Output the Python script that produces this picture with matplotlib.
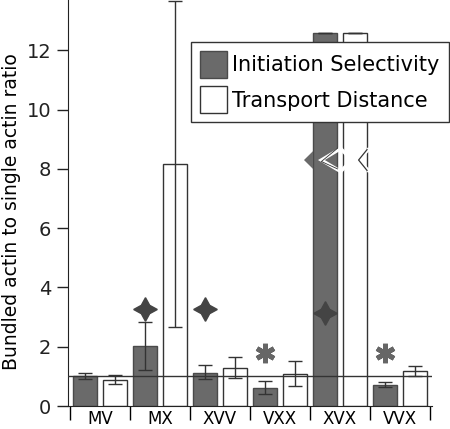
import numpy as np
import matplotlib.pyplot as plt

plt.rcParams['font.family'] = ['DejaVu Sans']

categories = ['MV', 'MX', 'XVV', 'VXX', 'XVX', 'VVX']
initiation = [1.0, 2.02, 1.12, 0.62, 12.6, 0.71]
init_lo = [0.1, 0.80, 0.20, 0.23, 0.0, 0.08]
init_hi = [0.1, 0.81, 0.25, 0.23, 0.0, 0.09]
transport = [0.88, 8.16, 1.27, 1.07, 12.6, 1.18]
trans_lo = [0.13, 5.5, 0.34, 0.41, 0.0, 0.17]
trans_hi = [0.17, 5.5, 0.37, 0.45, 0.0, 0.18]
# significance markers: (category index, y, marker)
marks = [(1, 3.26, 'star'), (2, 3.26, 'star'), (4, 3.15, 'star'),
         (3, 1.8, 'ast'), (5, 1.8, 'ast')]
broken = 4
break_y = 8.3

dark = '#6a6a6a'
x = np.arange(len(categories))
w = 0.4

fig = plt.figure(figsize=(4.5, 4.29), dpi=100)
ax = fig.add_axes([0.151, 0.0536, 0.809, 0.9464])

ax.bar(x - 0.25, initiation, w, color=dark, edgecolor='#4a4a4a', lw=1,
       label='Initiation Selectivity', zorder=2)
ax.bar(x + 0.25, transport, w, color='white', edgecolor='#333333', lw=1,
       label='Transport Distance', zorder=2)
ax.errorbar(x - 0.25, initiation, yerr=[init_lo, init_hi], fmt='none',
            ecolor='#333333', elinewidth=1, capsize=5, zorder=3)
ax.errorbar(x + 0.25, transport, yerr=[trans_lo, trans_hi], fmt='none',
            ecolor='#333333', elinewidth=1, capsize=5, zorder=3)

# axis break on the tall bars
for off in (-0.25, 0.25):
    left = x[broken] + off - w / 2
    right = x[broken] + off + w / 2
    tip = left + 0.35 * w
    if off < 0:
        ax.fill([left, left - 0.15, left], [break_y + 0.3, break_y, break_y - 0.3],
                color=dark, zorder=4, lw=0)
        ax.plot([right + 0.03, tip, right + 0.03], [break_y + 0.35, break_y, break_y - 0.35],
                color='white', lw=2.5, zorder=4, solid_joinstyle='miter')
        ax.plot([right + 0.01, tip, right + 0.01], [break_y + 0.4, break_y - 0.05, break_y - 0.3],
                color='#333333', lw=0.6, zorder=5)
    else:
        ax.plot([left - 0.02, tip, left - 0.02], [break_y + 0.35, break_y, break_y - 0.35],
                color='white', lw=2.5, zorder=4)
        ax.plot([right + 0.02, tip + 0.12, right + 0.02], [break_y + 0.35, break_y, break_y - 0.35],
                color='white', lw=2.5, zorder=4)
        ax.plot([right, tip + 0.12, right], [break_y + 0.35, break_y, break_y - 0.35],
                color='#333333', lw=0.9, zorder=5)

ax.axhline(1, color='#333333', lw=1, zorder=3)

for i, yv, kind in marks:
    if kind == 'star':
        ax.plot(x[i] - 0.25, yv, marker=(4, 1, 0), ms=17, color='#444444', zorder=5)
    else:
        ax.plot(x[i] - 0.25, yv, marker=(6, 2, 0), ms=14, color='#666666',
                mew=3.5, zorder=5)

ax.set_xlim(-0.533, 5.533)
ax.set_ylim(0, 13.7)
ax.set_yticks(np.arange(0, 13, 2))
ax.tick_params(axis='y', labelsize=14, length=8, width=1, colors='#222222', pad=4)
ax.set_xticks(np.arange(-0.5, 6, 1))
ax.set_xticklabels([])
ax.set_xticks(x, minor=True)
ax.set_xticklabels(categories, minor=True)
ax.tick_params(axis='x', which='major', length=10, width=1, direction='out')
ax.tick_params(axis='x', which='minor', length=0, labelsize=12, pad=3)
for s in ['top', 'right']:
    ax.spines[s].set_visible(False)
ax.spines['left'].set_color('#222222')
ax.spines['bottom'].set_color('#222222')
ax.set_ylabel('Bundled actin to single actin ratio', fontsize=13.5)
ax.yaxis.set_label_coords(-0.128, 0.478)

leg = ax.legend(loc='upper right', bbox_to_anchor=(1.047, 0.897), fontsize=15,
                frameon=True, fancybox=False, edgecolor='#333333', framealpha=1,
                handlelength=1.3, handleheight=1.6, handletextpad=0.25,
                borderpad=0.45, labelspacing=0.4, borderaxespad=0)
leg.get_frame().set_linewidth(1)
leg.set_zorder(6)

fig.savefig('out.png', dpi=100)
